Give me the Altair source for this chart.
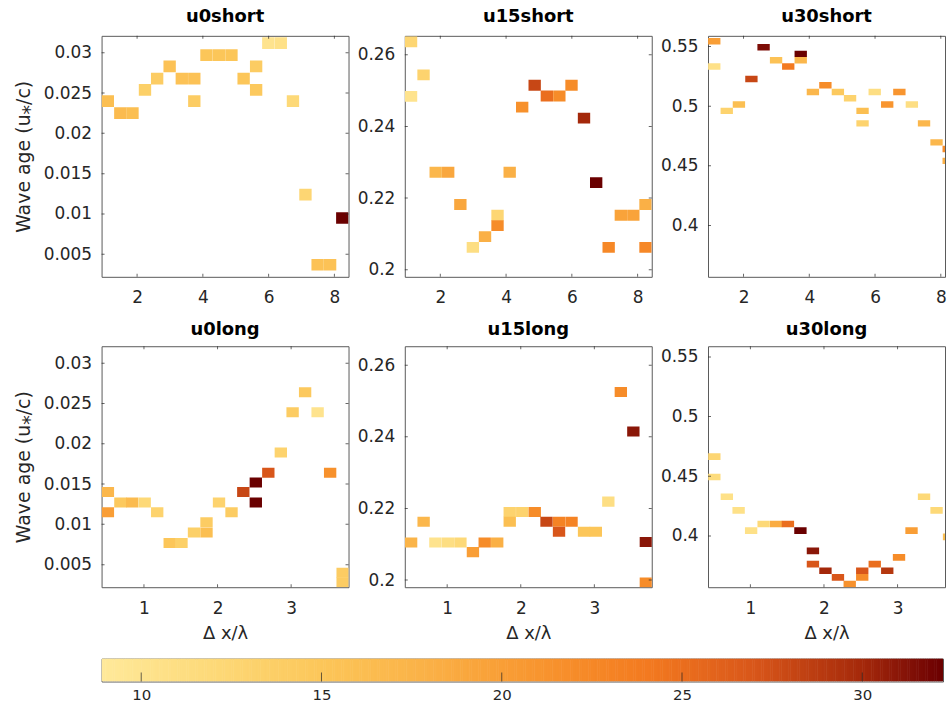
import altair as alt
import pandas as pd

# ---------------- data (cell centres and colour values) ----------------
u0short_x = [1.11, 1.49, 1.86, 2.24, 2.61, 2.99, 3.36, 3.74, 3.74, 4.11, 4.49, 4.87, 5.24, 5.62, 5.62, 5.99, 6.37, 6.74, 7.12, 7.49, 7.87, 8.24]
u0short_y = [0.0240, 0.0225, 0.0225, 0.0254, 0.0268, 0.0283, 0.0268, 0.0268, 0.0240, 0.0297, 0.0297, 0.0297, 0.0268, 0.0283, 0.0254, 0.0312, 0.0312, 0.0240, 0.0124, 0.0037, 0.0037, 0.0095]
u0short_v = [16, 16.5, 16, 13.5, 14, 15.5, 15.5, 15.5, 14, 15, 15, 15, 15, 14, 14.5, 10, 10.5, 12, 12.5, 15.5, 15.5, 32.5]

u15short_x = [1.11, 1.11, 1.49, 1.86, 2.24, 2.61, 2.99, 3.36, 3.74, 3.74, 4.11, 4.49, 4.87, 5.24, 5.62, 5.99, 6.37, 6.74, 7.12, 7.49, 7.87, 8.24, 8.24]
u15short_y = [0.2636, 0.2484, 0.2544, 0.2272, 0.2272, 0.2182, 0.2062, 0.2092, 0.2152, 0.2123, 0.2272, 0.2454, 0.2515, 0.2485, 0.2485, 0.2515, 0.2423, 0.2243, 0.2062, 0.2152, 0.2152, 0.2182, 0.2062]
u15short_v = [12.5, 10, 13, 17, 19, 19, 11, 18, 12.5, 22, 18, 21.5, 28, 25, 22, 22, 30, 32.5, 22.5, 19.5, 19.5, 18, 22.5]

u30short_x = [1.11, 1.11, 1.49, 1.86, 2.24, 2.61, 2.99, 3.36, 3.74, 3.74, 4.11, 4.49, 4.87, 5.24, 5.62, 5.62, 5.99, 6.37, 6.74, 7.12, 7.49, 7.87, 8.24, 8.24]
u30short_y = [0.5544, 0.5333, 0.4961, 0.5014, 0.5228, 0.5494, 0.5386, 0.5333, 0.5439, 0.5386, 0.5119, 0.5175, 0.5119, 0.5067, 0.4961, 0.4856, 0.5119, 0.5014, 0.5119, 0.5014, 0.4856, 0.4697, 0.4642, 0.4542]
u30short_v = [20, 10.5, 13, 16, 28, 31.5, 15.5, 24, 32.5, 17, 17, 22, 14.5, 13, 16, 13, 11, 21, 21, 11, 17, 17, 22, 18]

u0long_x = [0.51, 0.51, 0.68, 0.84, 1.01, 1.18, 1.35, 1.51, 1.68, 1.85, 1.85, 2.02, 2.19, 2.35, 2.52, 2.52, 2.69, 2.86, 3.02, 3.19, 3.36, 3.53, 3.70, 3.70]
u0long_y = [0.0140, 0.0115, 0.0127, 0.0127, 0.0127, 0.0115, 0.0077, 0.0077, 0.0090, 0.01025, 0.0090, 0.0127, 0.0115, 0.0140, 0.0152, 0.0127, 0.0164, 0.0189, 0.0239, 0.0264, 0.0239, 0.0164, 0.0040, 0.0028]
u0long_v = [17, 20, 14.5, 16.5, 12, 13, 15, 13.5, 13.5, 14, 16, 13, 14, 28, 33, 33, 27, 13, 14, 14.5, 10, 21.5, 14, 14]

u15long_x = [0.51, 0.68, 0.84, 1.01, 1.18, 1.35, 1.51, 1.68, 1.85, 1.85, 2.02, 2.19, 2.35, 2.52, 2.52, 2.69, 2.86, 3.02, 3.19, 3.36, 3.53, 3.70, 3.70]
u15long_y = [0.2105, 0.2163, 0.2105, 0.2105, 0.2105, 0.2078, 0.2105, 0.2105, 0.2190, 0.2163, 0.2190, 0.2190, 0.2163, 0.2163, 0.2135, 0.2163, 0.2135, 0.2135, 0.2219, 0.2525, 0.2415, 0.2106, 0.1993]
u15long_v = [17.5, 17, 10, 11, 12, 20, 22, 18, 13, 16, 13, 22, 28, 23, 27, 23, 15, 15, 11, 22, 31, 31, 22]

u30long_x = [0.51, 0.51, 0.68, 0.84, 1.01, 1.18, 1.35, 1.51, 1.68, 1.85, 1.85, 2.02, 2.19, 2.35, 2.52, 2.52, 2.69, 2.86, 3.02, 3.19, 3.36, 3.53, 3.70]
u30long_y = [0.4664, 0.4494, 0.4328, 0.4214, 0.4044, 0.4100, 0.4100, 0.4100, 0.4044, 0.3875, 0.3764, 0.3708, 0.3653, 0.3597, 0.3708, 0.3653, 0.3764, 0.3708, 0.3820, 0.4044, 0.4328, 0.4214, 0.3992]
u30long_v = [12.5, 11.5, 10.5, 10.5, 10.5, 12, 18.5, 25, 32.5, 31, 27, 30, 27, 21.5, 27, 22, 25, 29, 22, 20, 12, 12, 16]

short_xticks = [2, 4, 6, 8]
long_xticks = [1, 2, 3]
u0_yticks = [0.005, 0.01, 0.015, 0.02, 0.025, 0.03]
u15_yticks = [0.2, 0.22, 0.24, 0.26]
u30_yticks = [0.4, 0.45, 0.5, 0.55]
cbar_ticks = [10, 15, 20, 25, 30]

# ---------------- styling / layout ----------------
FONT = "DejaVu Sans"
TXT = "#262626"
W, W_CUT, H = 248, 238, 242          # the right-hand column is cut off by the figure edge
SHORT_XDOM, LONG_XDOM = [0.92, 8.43], [0.424, 3.78]
SHORT_XDOM_CUT, LONG_XDOM_CUT = [0.92, 8.128], [0.424, 3.645]
U0_YDOM, U15_YDOM, U30_YDOM = [0.0022, 0.0321], [0.198, 0.2653], [0.357, 0.559]
SHORT_CW, LONG_CW = 0.3755, 0.1678
CB_W, CB_H = 845, 23

CDOM = [8.9, 12, 15, 18, 21, 24, 27, 30, 32.24]
CRANGE = ["#FFE99A", "#FDD978", "#FCC659", "#FAB046", "#F8952F", "#F37A20", "#D8561A", "#A4280A", "#6A0000"]
cscale = alt.Scale(domain=CDOM, range=CRANGE, clamp=True)


def panel(name, xs, ys, vs, xdom, xticks, cw, ydom, yticks, ch, ytitle, xtitle, width, title_offset, cut=False):
    df = pd.DataFrame({"x": xs, "y": ys, "v": vs})
    base = alt.Chart(df).transform_calculate(
        xa=f"datum.x - {cw / 2}", xb=f"datum.x + {cw / 2}",
        ya=f"datum.y - {ch / 2}", yb=f"datum.y + {ch / 2}",
    )
    xsc = alt.Scale(domain=xdom, nice=False, zero=False)
    ysc = alt.Scale(domain=ydom, nice=False, zero=False)

    xax = dict(orient="bottom", values=xticks, ticks=False, tickSize=0, domain=False,
               labelPadding=13, format="~g", title=None)
    if xtitle:
        xax.update(title="Δ x/λ", titleFontSize=18, titleFontWeight="normal",
                   titleColor=TXT, titlePadding=9)
    yax = dict(orient="left", values=yticks, ticks=False, tickSize=0, domain=False,
               labelPadding=10, format="~g", title=None)
    if ytitle:
        yax.update(title="Wave age (u⁎/c)", titleFontSize=19, titleFontWeight="normal",
                   titleColor=TXT, titlePadding=10)

    cells = base.mark_rect(clip=True).encode(
        x=alt.X("xa:Q", scale=xsc, axis=alt.Axis(**xax)),
        x2="xb:Q",
        y=alt.Y("ya:Q", scale=ysc, axis=alt.Axis(**yax)),
        y2="yb:Q",
        color=alt.Color("v:Q", scale=cscale, legend=None),
    )
    # inward tick marks on the frame (MATLAB box style), centred on the frame and clipped
    xedges = [xdom[0]] if cut else xdom
    xt = pd.DataFrame({"tx": [t for t in xticks for _ in ydom], "ty": [e for _ in xticks for e in ydom]})
    yt = pd.DataFrame({"tx": [e for _ in yticks for e in xedges], "ty": [t for t in yticks for _ in xedges]})
    vt = alt.Chart(xt).mark_tick(orient="vertical", size=6, thickness=1, color=TXT, clip=True).encode(
        x=alt.X("tx:Q", scale=xsc), y=alt.Y("ty:Q", scale=ysc))
    ht = alt.Chart(yt).mark_tick(orient="horizontal", size=6, thickness=1, color=TXT, clip=True).encode(
        x=alt.X("tx:Q", scale=xsc), y=alt.Y("ty:Q", scale=ysc))
    return alt.layer(cells, vt, ht).properties(
        width=width, height=H,
        title=alt.TitleParams(name, fontSize=18, fontWeight="bold", color="#000000", offset=title_offset),
    )


top = alt.HConcatChart(hconcat=[
    panel("u0short", u0short_x, u0short_y, u0short_v, SHORT_XDOM, short_xticks, SHORT_CW, U0_YDOM, u0_yticks, 0.00145, True, False, W, 10),
    panel("u15short", u15short_x, u15short_y, u15short_v, SHORT_XDOM, short_xticks, SHORT_CW, U15_YDOM, u15_yticks, 0.00302, False, False, W, 10),
    panel("u30short", u30short_x, u30short_y, u30short_v, SHORT_XDOM_CUT, short_xticks, SHORT_CW, U30_YDOM, u30_yticks, 0.0054, False, False, W_CUT, 10, True),
], spacing=6.5)

bottom = alt.HConcatChart(hconcat=[
    panel("u0long", u0long_x, u0long_y, u0long_v, LONG_XDOM, long_xticks, LONG_CW, U0_YDOM, u0_yticks, 0.00124, True, True, W, 7),
    panel("u15long", u15long_x, u15long_y, u15long_v, LONG_XDOM, long_xticks, LONG_CW, U15_YDOM, u15_yticks, 0.0028, False, True, W, 7),
    panel("u30long", u30long_x, u30long_y, u30long_v, LONG_XDOM_CUT, long_xticks, LONG_CW, U30_YDOM, u30_yticks, 0.0056, False, True, W_CUT, 7, True),
], spacing=6.5)

# ---------------- colour bar ----------------
CB_STEP = 0.05
cb_df = pd.DataFrame({"c": [CDOM[0] + i * CB_STEP for i in range(int((CDOM[-1] - CDOM[0]) / CB_STEP) + 1)]})
cb_x = alt.Scale(domain=[CDOM[0], CDOM[-1]], nice=False, zero=False)
cb_y = alt.Scale(domain=[0, 1], nice=False, zero=False)
# an invisible left axis with the same extent as the panels' y axes keeps the bar aligned with the plots
cb_yaxis = alt.Axis(values=[0.5], labelExpr="'0.025'", labelOpacity=0, labelPadding=39, ticks=False,
                    tickSize=0, domain=False, title=None)
cb_rect = alt.Chart(cb_df).transform_calculate(
    c2=f"datum.c + {CB_STEP * 1.3}", lo="0", hi="1"
).mark_rect(clip=True).encode(
    x=alt.X("c:Q", scale=cb_x, axis=alt.Axis(orient="bottom", values=cbar_ticks, ticks=False, tickSize=0,
                                             domain=False, labelPadding=6, labelFontSize=15, title=None)),
    x2="c2:Q",
    y=alt.Y("lo:Q", scale=cb_y, axis=cb_yaxis),
    y2="hi:Q",
    color=alt.Color("c:Q", scale=cscale, legend=None),
)
cb_tk = alt.Chart(pd.DataFrame({"t": cbar_ticks, "b": [0] * len(cbar_ticks)})).mark_tick(
    orient="vertical", size=18, thickness=1, color=TXT, clip=True
).encode(
    x=alt.X("t:Q", scale=cb_x),
    y=alt.Y("b:Q", scale=cb_y),
)
cbar = alt.layer(cb_rect, cb_tk).properties(width=CB_W, height=CB_H)

chart = alt.VConcatChart(vconcat=[top, bottom, cbar], spacing=13.7).properties(
    padding={"left": 13, "top": 5.5, "right": 0, "bottom": 0},
    background="white",
).configure_view(
    stroke="#5a5a5a", strokeWidth=1
).configure_axis(
    labelFont=FONT, labelFontSize=17, labelColor=TXT, titleFont=FONT,
    tickColor=TXT, tickWidth=1, grid=False,
).configure_title(
    font=FONT, anchor="middle",
)

chart.save("out.html", embed_options={"renderer": "svg", "actions": False})
